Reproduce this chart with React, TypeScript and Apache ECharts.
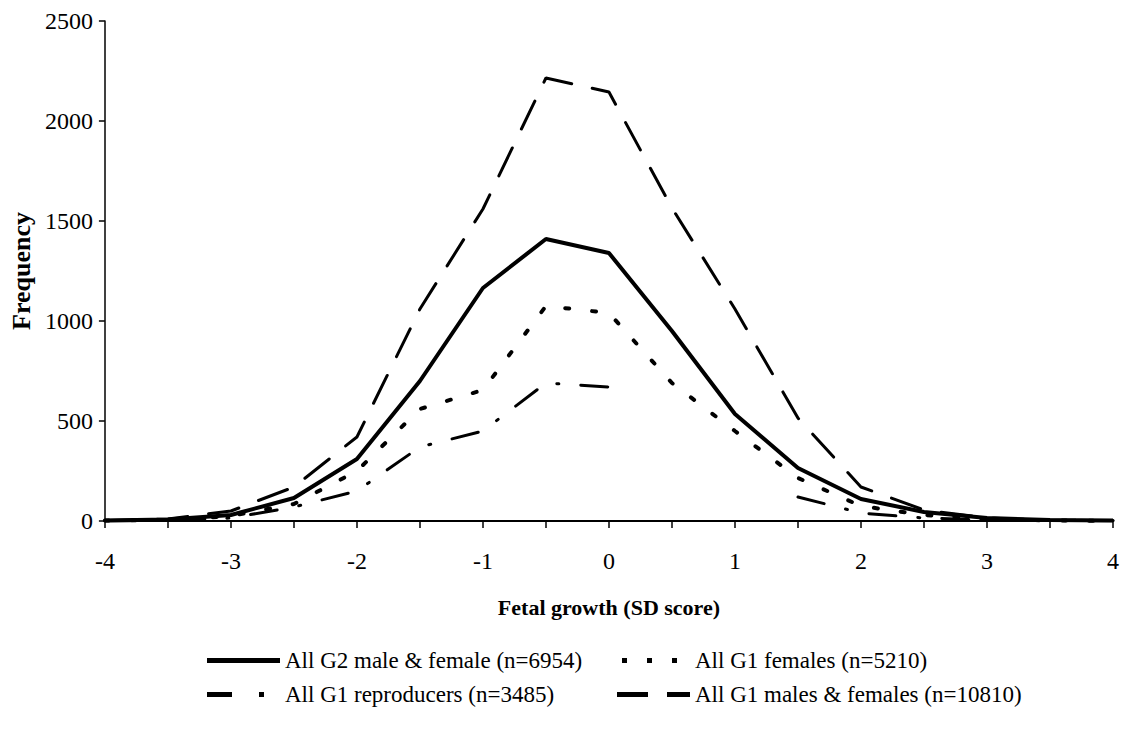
import React, { useEffect, useRef } from "react";
import * as echarts from "echarts";

const xValues = [-4, -3.5, -3, -2.5, -2, -1.5, -1, -0.5, 0, 0.5, 1, 1.5, 2, 2.5, 3, 3.5, 4];
const g2MaleFemale = [3, 8, 30, 115, 310, 700, 1165, 1410, 1340, 950, 535, 265, 110, 45, 15, 5, 2];
const g1Females = [2, 5, 25, 85, 250, 560, 655, 1075, 1040, 690, 450, 215, 75, 30, 10, 3, 1];
const g1Reproducers: (number | null)[] = [1, 3, 15, 70, 150, 370, 450, 690, 670, null, null, 120, 40, 15, 5, 2, 1];
const g1MalesFemales = [3, 10, 50, 170, 420, 1060, 1560, 2215, 2145, 1565, 1060, 515, 170, 55, 15, 5, 2];

const seriesNames = [
  "All G2 male & female (n=6954)",
  "All G1 females (n=5210)",
  "All G1 reproducers (n=3485)",
  "All G1 males & females (n=10810)",
];

const FONT = "'Liberation Serif', 'Times New Roman', serif";

function pairs(vals: (number | null)[]) {
  return xValues.map((x, i) => [x, vals[i] === null ? "-" : vals[i]]);
}

// tiny corner markers keep the icon's bounding box at W x H
function iconPath(w: number, h: number, rects: [number, number][]) {
  const parts = rects.map(([a, b]) => `M${a},0H${b}V${h}H${a}Z`);
  parts.push(`M0,0h0.01v0.01h-0.01Z`);
  parts.push(`M${w},${h}h-0.01v-0.01h0.01Z`);
  return "path://" + parts.join("");
}

export default function App() {
  const ref = useRef<HTMLDivElement>(null);
  useEffect(() => {
    if (!ref.current) return;
    const chart = echarts.init(ref.current, undefined, { renderer: "svg" });
    const legendText = { fontFamily: FONT, fontSize: 23, color: "#000" };
    const W1 = 75;
    const W2 = 73;
    const H = 5;
    chart.setOption({
      animation: false,
      backgroundColor: "#fff",
      grid: { left: 100, right: 12, top: 21, bottom: 211, containLabel: false },
      xAxis: {
        type: "value",
        min: -4,
        max: 4,
        interval: 0.5,
        name: "Fetal growth (SD score)",
        nameLocation: "middle",
        nameGap: 75,
        nameTextStyle: { fontFamily: FONT, fontSize: 22, fontWeight: "bold", color: "#000" },
        axisLine: { onZero: false, lineStyle: { color: "#000", width: 2 } },
        axisTick: { show: true, inside: false, length: 7, lineStyle: { color: "#000", width: 1.5 } },
        axisLabel: {
          fontFamily: FONT,
          fontSize: 24,
          color: "#000",
          margin: 28,
          formatter: (v: number) => (Number.isInteger(v) ? String(v) : ""),
        },
        splitLine: { show: false },
      },
      yAxis: {
        type: "value",
        min: 0,
        max: 2500,
        interval: 500,
        name: "Frequency",
        nameLocation: "middle",
        nameGap: 68,
        nameTextStyle: { fontFamily: FONT, fontSize: 26, fontWeight: "bold", color: "#000" },
        axisLine: { show: true, onZero: false, lineStyle: { color: "#000", width: 1.5 } },
        axisTick: { show: true, inside: false, length: 6, lineStyle: { color: "#000", width: 1.5 } },
        axisLabel: {
          fontFamily: FONT,
          fontSize: 24,
          color: "#000",
          margin: 12,
          formatter: (v: number) => String(v),
        },
        splitLine: { show: false },
      },
      legend: [
        {
          orient: "vertical",
          left: 200,
          top: 644,
          itemWidth: W1,
          itemHeight: H,
          itemGap: 11,
          symbolKeepAspect: false,
          data: [
            { name: seriesNames[0], icon: iconPath(W1, H, [[2, 75]]) },
            { name: seriesNames[2], icon: iconPath(W1, H, [[2, 27], [54, 59]]) },
          ],
          textStyle: legendText,
        },
        {
          orient: "vertical",
          left: 612,
          top: 644,
          itemWidth: W2,
          itemHeight: H,
          itemGap: 11,
          symbolKeepAspect: false,
          data: [
            { name: seriesNames[1], icon: iconPath(W2, H, [[5, 10], [30, 35], [55, 60]]) },
            { name: seriesNames[3], icon: iconPath(W2, H, [[0, 31], [50, 73]]) },
          ],
          textStyle: legendText,
        },
      ],
      series: [
        {
          name: seriesNames[0],
          type: "line",
          data: pairs(g2MaleFemale),
          symbol: "none",
          lineStyle: { color: "#000", width: 4 },
          itemStyle: { color: "#000" },
        },
        {
          name: seriesNames[1],
          type: "line",
          data: pairs(g1Females),
          symbol: "none",
          lineStyle: { color: "#000", width: 4, type: [4, 23], cap: "round" },
          itemStyle: { color: "#000" },
        },
        {
          name: seriesNames[2],
          type: "line",
          data: pairs(g1Reproducers),
          symbol: "none",
          connectNulls: false,
          lineStyle: { color: "#000", width: 3, type: [27, 22, 2, 22], cap: "round" },
          itemStyle: { color: "#000" },
        },
        {
          name: seriesNames[3],
          type: "line",
          data: pairs(g1MalesFemales),
          symbol: "none",
          lineStyle: { color: "#000", width: 3, type: [31, 21], cap: "round" },
          itemStyle: { color: "#000" },
        },
      ],
    });
    return () => chart.dispose();
  }, []);
  return (
    <div
      ref={ref}
      style={{ position: "absolute", left: 0, top: 0, width: 1125, height: 732 }}
    />
  );
}
